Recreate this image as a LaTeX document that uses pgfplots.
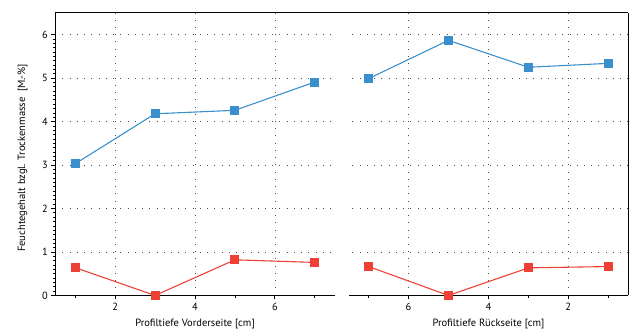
\documentclass[border=0pt]{standalone}
\usepackage{fontspec}
\setmainfont{PT Sans}
\usepackage{pgfplots}
\pgfplotsset{compat=1.18}
\definecolor{cblue}{HTML}{3A8FCD}
\definecolor{cred}{HTML}{EE4035}
\pgfplotsset{
 panel/.style={
  scale only axis, width=281bp, height=284bp,
  ymin=0, ymax=6.5, xmin=0.5, xmax=7.5,
  xtick={2,4,6}, minor xtick={1,3,5,7},
  ytick={0,1,2,3,4,5,6},
  grid=major,
  major grid style={black!70, line width=0.6pt, dash pattern=on 0.8pt off 6.5pt},
  tick align=outside,
  major tick length=4bp, minor tick length=2.5bp,
  tick style={black, line width=0.8pt},
  axis line style={-, line width=1pt, black},
  axis x line*=bottom,
  clip=false,
  font=\fontsize{10.6}{12}\selectfont,
  tick label style={font=\fontsize{10.5}{12}\selectfont},
  /pgf/number format/assume math mode=true,
  every axis plot/.append style={line width=1.1pt, mark=square*, mark size=4bp, mark options={solid}},
 },
}
\begin{document}
\begin{tikzpicture}
\begin{axis}[panel, name=L,
  axis y line*=left, minor y tick num=9,
  xlabel={Profiltiefe Vorderseite [cm]},
  ylabel={Feuchtegehalt bzgl. Trockenmasse\ \ [M.-\%]},
  every axis x label/.style={at={(axis description cs:0.5,-0.102)}, anchor=center},
  every axis y label/.style={at={(axis description cs:-0.117,0.486)}, rotate=90, anchor=center},
]
\addplot[cblue] coordinates {(1,3.03) (3,4.18) (5,4.26) (7,4.91)};
\addplot[cred] coordinates {(1,0.64) (3,0.0) (5,0.82) (7,0.76)};
\end{axis}
\begin{axis}[panel, name=R, at={(L.south east)}, anchor=south west, xshift=14bp,
  x dir=reverse,
  axis y line*=right, yticklabels={}, y tick style={draw=none}, minor y tick num=0,
  xlabel={Profiltiefe Rückseite [cm]},
  every axis x label/.style={at={(axis description cs:0.5,-0.102)}, anchor=center},
]
\addplot[cblue] coordinates {(7,4.99) (5,5.87) (3,5.25) (1,5.34)};
\addplot[cred] coordinates {(7,0.665) (5,0.0) (3,0.635) (1,0.665)};
\end{axis}
\draw[black, line width=1pt] (L.north west) -- (R.north east);
\path ([shift={(-55.5bp,-34bp)}]L.south west) rectangle ++(639bp,331bp);
\end{tikzpicture}
\end{document}
